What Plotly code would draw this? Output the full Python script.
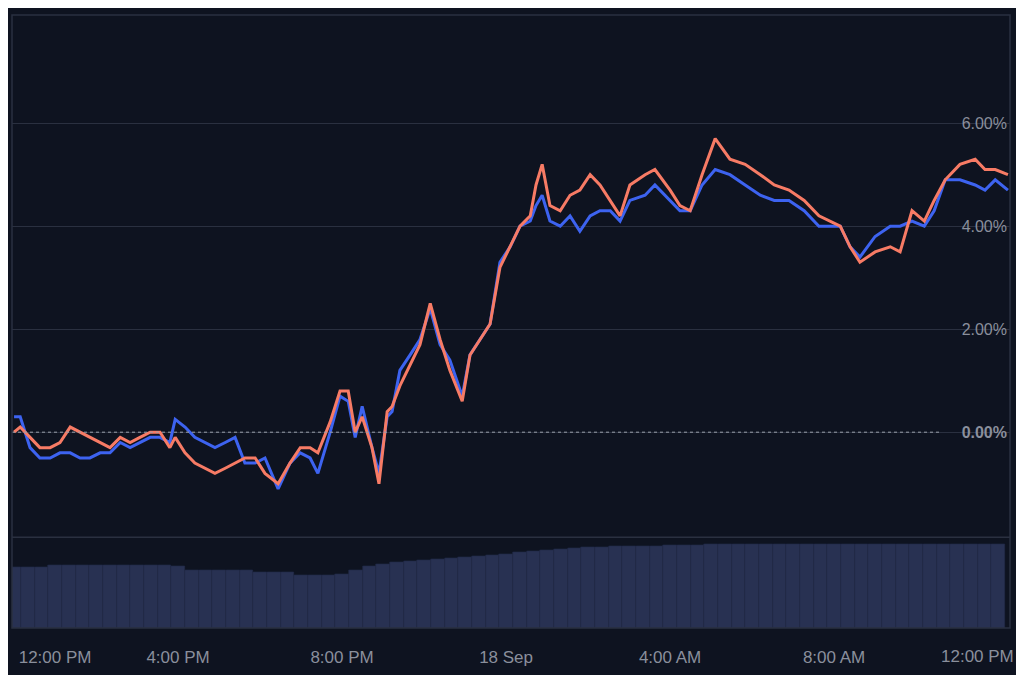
import plotly.graph_objects as go

hours = [0.0,0.15,0.39,0.63,0.88,1.12,1.37,1.61,1.85,2.1,2.34,2.59,2.83,3.07,3.32,3.56,3.8,3.93,4.17,4.41,4.66,4.9,5.15,5.39,5.63,5.88,6.12,6.44,6.73,6.98,7.22,7.41,7.71,7.95,8.15,8.32,8.49,8.73,8.9,9.1,9.22,9.41,9.66,9.9,10.15,10.39,10.63,10.93,11.12,11.37,11.61,11.85,12.1,12.34,12.59,12.73,12.88,13.07,13.32,13.56,13.8,14.05,14.29,14.54,14.78,15.02,15.39,15.63,16.0,16.24,16.49,16.78,17.1,17.46,17.83,18.2,18.54,18.9,19.27,19.63,20.15,20.39,20.63,21.0,21.37,21.61,21.9,22.2,22.44,22.71,23.07,23.44,23.68,23.93,24.24]
blue = [0.3,0.3,-0.3,-0.5,-0.5,-0.4,-0.4,-0.5,-0.5,-0.4,-0.4,-0.2,-0.3,-0.2,-0.1,-0.1,-0.2,0.25,0.1,-0.1,-0.2,-0.3,-0.2,-0.1,-0.6,-0.6,-0.5,-1.1,-0.6,-0.4,-0.5,-0.8,0.0,0.7,0.6,-0.1,0.5,-0.3,-0.8,0.3,0.4,1.2,1.5,1.8,2.4,1.7,1.4,0.7,1.5,1.8,2.1,3.3,3.6,4.0,4.1,4.4,4.6,4.1,4.0,4.2,3.9,4.2,4.3,4.3,4.1,4.5,4.6,4.8,4.5,4.3,4.3,4.8,5.1,5.0,4.8,4.6,4.5,4.5,4.3,4.0,4.0,3.6,3.4,3.8,4.0,4.0,4.1,4.0,4.3,4.9,4.9,4.8,4.7,4.9,4.7]
orange = [0.0,0.1,-0.1,-0.3,-0.3,-0.2,0.1,0.0,-0.1,-0.2,-0.3,-0.1,-0.2,-0.1,0.0,0.0,-0.3,-0.1,-0.4,-0.6,-0.7,-0.8,-0.7,-0.6,-0.5,-0.5,-0.8,-1.0,-0.6,-0.3,-0.3,-0.4,0.2,0.8,0.8,0.0,0.3,-0.3,-1.0,0.4,0.5,0.9,1.3,1.7,2.5,1.8,1.2,0.6,1.5,1.8,2.1,3.2,3.6,4.0,4.2,4.8,5.2,4.4,4.3,4.6,4.7,5.0,4.8,4.5,4.2,4.8,5.0,5.1,4.7,4.4,4.3,5.0,5.7,5.3,5.2,5.0,4.8,4.7,4.5,4.2,4.0,3.6,3.3,3.5,3.6,3.5,4.3,4.1,4.5,4.9,5.2,5.3,5.1,5.1,5.0]

vol_hours = [i/3 for i in range(73)]
volume = [61,61,61,63,63,63,63,63,63,63,63,63,62,58,58,58,58,58,56,56,56,53,53,53,54,58,62,64,66,67,68,69,70,71,72,73,74,76,77,78,79,80,81,81,82,82,82,82,83,83,83]+[84]*22

tick_pos = [1,4,8,12,16,20,23.5]
tick_text = ["12:00 PM","4:00 PM","8:00 PM","18 Sep","4:00 AM","8:00 AM","12:00 PM"]
y_ticks = [0,2,4,6]
y_text = ["<b>0.00%</b>","2.00%","4.00%","6.00%"]

fig = go.Figure()
fig.add_trace(go.Bar(x=vol_hours, y=volume, width=0.333, marker=dict(color="#283152", line=dict(width=0.6, color="#222a47")), xaxis="x", yaxis="y2"))
fig.add_trace(go.Scatter(x=hours, y=blue, mode="lines", line=dict(color="#3d63f0", width=3), yaxis="y"))
fig.add_trace(go.Scatter(x=hours, y=orange, mode="lines", line=dict(color="#f77b65", width=3), yaxis="y"))

fig.update_layout(
    width=1016, height=667, showlegend=False,
    paper_bgcolor="#0e1320", plot_bgcolor="#0e1320",
    margin=dict(l=4, r=14, t=7, b=47),
    bargap=0,
    font=dict(family="Liberation Sans, Arial", color="#8a8f9c", size=17),
    xaxis=dict(range=[-0.05,24.29], anchor="y2", tickvals=tick_pos[:-1], ticktext=tick_text[:-1],
               showgrid=False, zeroline=False, showline=False, ticks="", ticklen=0,
               ticklabelstandoff=17, automargin=False),
    yaxis=dict(domain=[0.148,1], range=[-2.04,8.1], side="right", tickvals=y_ticks, ticktext=y_text,
               ticklabelposition="inside", showgrid=True, gridcolor="#2a3040", zeroline=False,
               tickfont=dict(size=16, color="#8a8f9c")),
    yaxis2=dict(domain=[0,0.148], range=[0,91], showticklabels=False, showgrid=False, zeroline=False),
    annotations=[dict(x=tick_pos[-1], xref="x", y=0, yref="paper", yanchor="top", yshift=-17,
                      text=tick_text[-1], showarrow=False, font=dict(size=17, color="#8a8f9c"))],
    shapes=[
        dict(type="line", xref="paper", yref="y", x0=0, x1=0.93, y0=0, y1=0, line=dict(color="#9aa0aa", width=1, dash="dot")),
        dict(type="line", xref="paper", yref="paper", x0=0, x1=1, y0=0.148, y1=0.148, line=dict(color="#2a3040", width=1.5)),
        dict(type="rect", xref="paper", yref="paper", x0=0, x1=1, y0=0, y1=1, line=dict(color="#2a3040", width=1.5)),
    ],
)
fig.write_html("out.html")
